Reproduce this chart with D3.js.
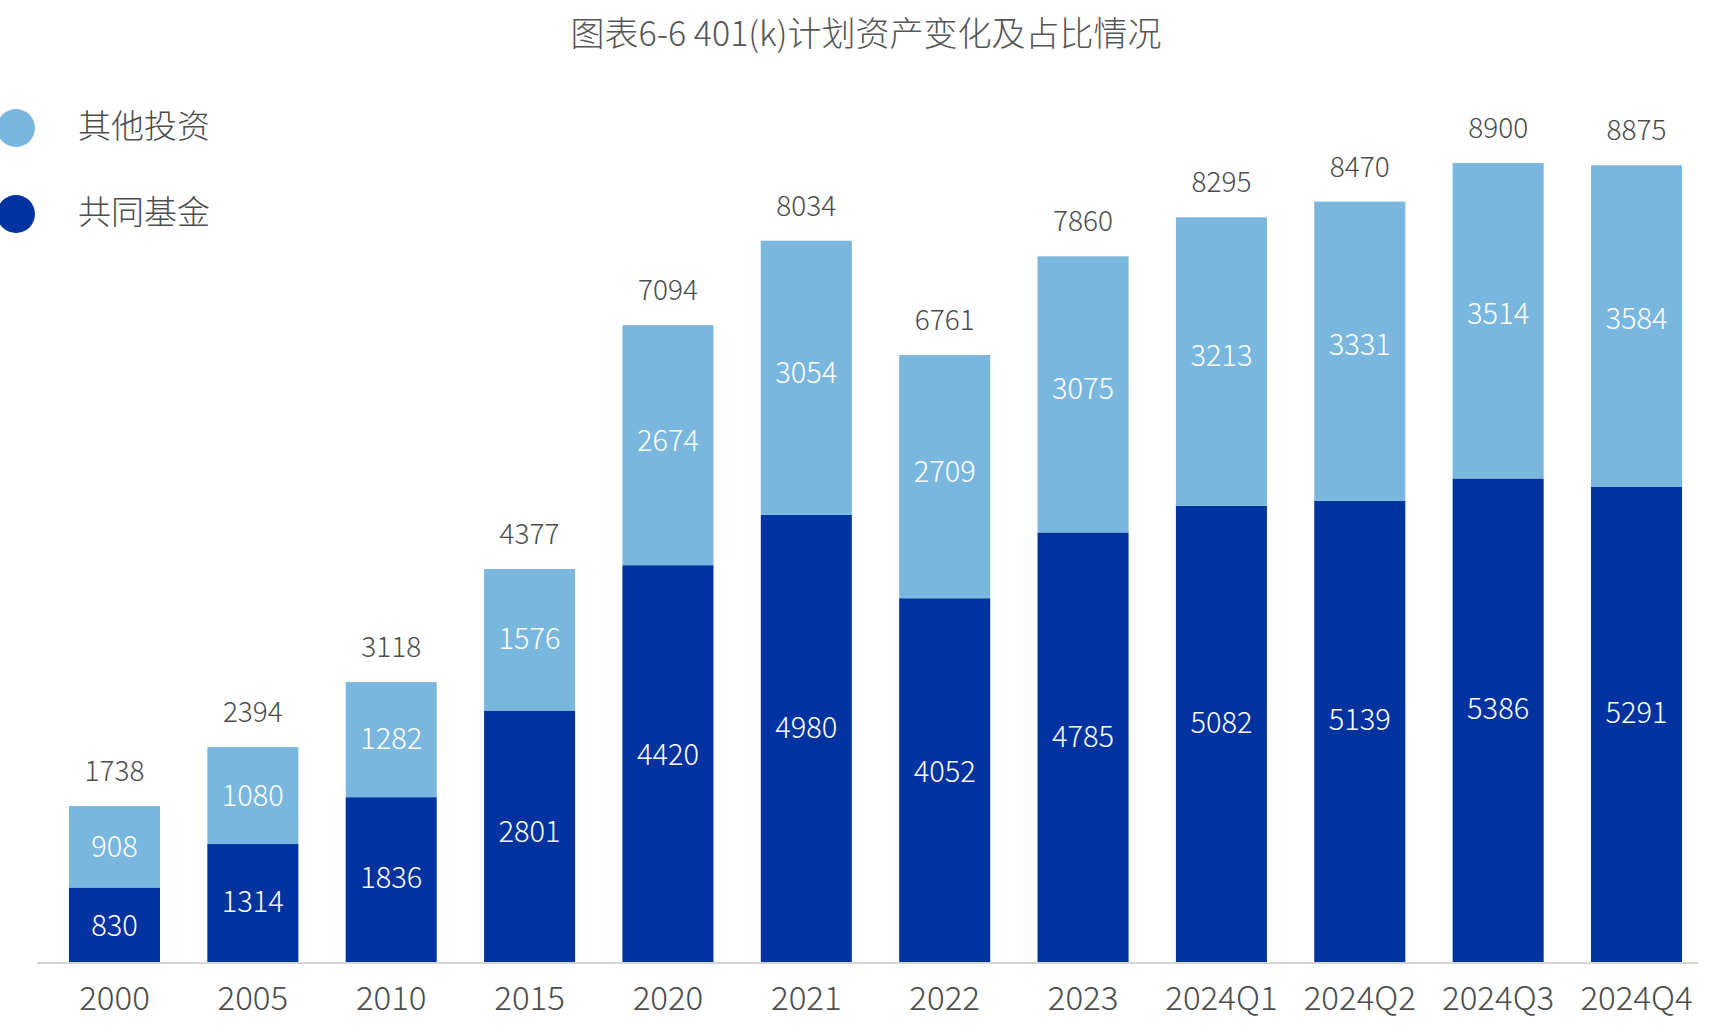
<!DOCTYPE html>
<html>
<head>
<meta charset="utf-8">
<script src="https://cdn.jsdelivr.net/npm/d3@7/dist/d3.min.js"></script>
<style>
  html, body { margin: 0; padding: 0; background: #fff; }
  svg { display: block; font-family: "Noto Sans CJK SC", "Noto Sans", sans-serif; font-weight: 300; }
</style>
</head>
<body>
<svg id="chart" width="1720" height="1033"></svg>
<script>
const categories = ['2000', '2005', '2010', '2015', '2020', '2021', '2022', '2023', '2024Q1', '2024Q2', '2024Q3', '2024Q4'];
const mutualFunds = [830, 1314, 1836, 2801, 4420, 4980, 4052, 4785, 5082, 5139, 5386, 5291];
const otherInvest = [908, 1080, 1282, 1576, 2674, 3054, 2709, 3075, 3213, 3331, 3514, 3584];
const seriesNames = ['共同基金', '其他投资'];
const titleText = '图表6-6 401(k)计划资产变化及占比情况';

const baseY = 962;
const darkBlue = '#0033a0';
const lightBlue = '#7ab7de';
const textGray = '#4d4d4d';

const rows = categories.map((c, i) => ({ cat: c, fund: mutualFunds[i], other: otherInvest[i] }));
const stacked = d3.stack().keys(['fund', 'other'])(rows);
const totals = rows.map(d => d.fund + d.other);

const x = d3.scaleBand()
  .domain(categories)
  .range([37, 1714])
  .paddingInner(0.342)
  .paddingOuter(0.231);

const y = d3.scaleLinear()
  .domain([0, d3.max(totals)])
  .range([baseY, 163]);

const color = d3.scaleOrdinal()
  .domain(['fund', 'other'])
  .range([darkBlue, lightBlue]);

const svg = d3.select('#chart');

// title
svg.append('text')
  .attr('x', 866)
  .attr('y', 31)
  .attr('text-anchor', 'middle')
  .attr('dominant-baseline', 'central')
  .attr('font-size', 34)
  .attr('fill', '#555')
  .text(titleText);

// legend
const legend = svg.append('g').attr('class', 'legend');
const legendItems = [
  { name: seriesNames[1], key: 'other', cy: 128 },
  { name: seriesNames[0], key: 'fund', cy: 214 }
];
legendItems.forEach((d) => {
  legend.append('circle')
    .attr('cx', 16)
    .attr('cy', d.cy)
    .attr('r', 19)
    .attr('fill', color(d.key));
  legend.append('text')
    .attr('x', 78)
    .attr('y', d.cy - 4)
    .attr('dominant-baseline', 'central')
    .attr('font-size', 33)
    .attr('fill', textGray)
    .text(d.name);
});

// bars
const layers = svg.append('g').attr('class', 'bars')
  .selectAll('g')
  .data(stacked)
  .enter()
  .append('g')
  .attr('fill', d => color(d.key));

layers.selectAll('rect')
  .data(d => d)
  .enter()
  .append('rect')
  .attr('x', d => x(d.data.cat))
  .attr('y', d => y(d[1]))
  .attr('width', x.bandwidth())
  .attr('height', d => y(d[0]) - y(d[1]));

// inner labels
layers.selectAll('text')
  .data(d => d)
  .enter()
  .append('text')
  .attr('x', d => x(d.data.cat) + x.bandwidth() / 2)
  .attr('y', d => y(d[1]) + (y(d[0]) - y(d[1])) * 0.47)
  .attr('text-anchor', 'middle')
  .attr('dominant-baseline', 'central')
  .attr('font-size', 29)
  .attr('fill', '#fff')
  .text(d => d[1] - d[0]);

// total labels
svg.append('g').attr('class', 'totals')
  .selectAll('text')
  .data(rows)
  .enter()
  .append('text')
  .attr('x', d => x(d.cat) + x.bandwidth() / 2)
  .attr('y', (d, i) => y(totals[i]) - 25)
  .attr('text-anchor', 'middle')
  .attr('font-size', 28)
  .attr('fill', textGray)
  .text((d, i) => totals[i]);

// x axis
const axisG = svg.append('g')
  .attr('class', 'x axis')
  .attr('transform', `translate(0, ${baseY})`)
  .call(d3.axisBottom(x).tickSize(0));

axisG.select('.domain').remove();
axisG.append('line')
  .attr('x1', x.range()[0])
  .attr('x2', x(categories[categories.length - 1]) + x.bandwidth() + 16)
  .attr('y1', 1)
  .attr('y2', 1)
  .attr('stroke', '#d4d4d4')
  .attr('stroke-width', 2);

axisG.selectAll('.tick text')
  .attr('y', 48)
  .attr('dy', 0)
  .attr('font-size', 33)
  .attr('font-family', '"Noto Sans CJK SC", "Noto Sans", sans-serif')
  .attr('font-weight', 300)
  .attr('fill', textGray);
</script>
</body>
</html>
